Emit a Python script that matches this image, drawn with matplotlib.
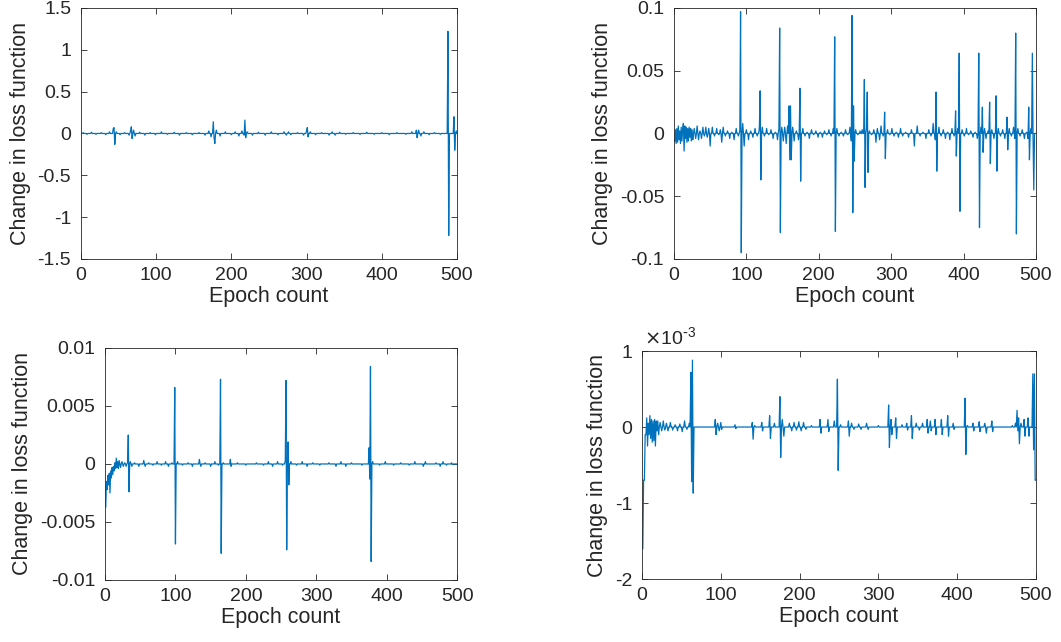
import numpy as np
import matplotlib
matplotlib.use("Agg")
import matplotlib.pyplot as plt
from matplotlib.ticker import FuncFormatter

plt.rcParams['font.family'] = ['Liberation Sans', 'DejaVu Sans']
plt.rcParams['axes.unicode_minus'] = False

n_epochs = 500
line_color = '#0072BD'

# panel 1 (top left): epoch -> change in loss
p1_x = [3, 8, 14, 20, 27, 33, 38, 43, 44, 45,
        47, 52, 58, 64, 66, 67, 68, 70, 72, 78,
        85, 92, 99, 107, 115, 124, 131, 140, 148, 157,
        165, 170, 173, 176, 177, 178, 180, 185, 192, 200,
        205, 210, 214, 217, 218, 219, 221, 228, 236, 245,
        253, 262, 270, 273, 276, 279, 288, 296, 300, 301,
        302, 305, 312, 320, 330, 334, 338, 344, 352, 362,
        371, 380, 390, 400, 410, 420, 432, 440, 446, 447,
        449, 452, 456, 463, 470, 478, 488, 489, 496, 497,
        499]
p1_y = [0.01, -0.01, 0.015, -0.01, 0.01, -0.015, 0.02, 0.06, 0.07, -0.13,
        0.02, -0.015, 0.01, -0.02, 0.03, 0.08, -0.06, 0.04, -0.03, 0.015,
        -0.02, 0.01, -0.015, 0.02, -0.01, 0.015, -0.02, 0.01, -0.015, 0.01,
        -0.02, 0.03, -0.04, 0.14, -0.05, -0.12, 0.04, -0.03, 0.02, -0.015,
        0.02, -0.03, 0.03, -0.02, 0.16, -0.05, 0.02, -0.02, 0.015, -0.02,
        0.02, -0.015, 0.02, -0.02, 0.02, -0.015, 0.01, -0.02, 0.03, 0.07,
        -0.04, 0.02, -0.015, 0.01, -0.02, 0.02, -0.02, 0.015, -0.01, 0.01,
        -0.01, 0.015, -0.01, 0.01, -0.015, 0.01, -0.01, 0.02, 0.04, -0.05,
        0.04, -0.03, 0.02, -0.015, 0.01, -0.01, 1.22, -1.22, 0.2, -0.2,
        0.03]

# panel 2 (top right)
p2_x = [1, 2, 3, 4, 5, 6, 7, 8, 9, 10,
        11, 12, 13, 14, 15, 16, 17, 18, 19, 20,
        21, 22, 23, 24, 25, 26, 28, 30, 32, 34,
        36, 38, 40, 42, 44, 46, 48, 50, 53, 56,
        59, 62, 64, 66, 68, 71, 74, 77, 80, 83,
        86, 89, 91, 92, 93, 95, 97, 100, 103, 106,
        109, 112, 115, 118, 119, 120, 122, 125, 128, 131,
        134, 137, 140, 143, 145, 146, 147, 149, 151, 153,
        155, 157, 159, 160, 161, 162, 164, 166, 169, 172,
        174, 175, 178, 181, 184, 187, 190, 193, 196, 199,
        202, 205, 208, 211, 214, 217, 220, 222, 223, 225,
        228, 231, 234, 237, 240, 243, 245, 246, 247, 248,
        249, 251, 254, 257, 260, 263, 264, 266, 267, 268,
        270, 273, 276, 279, 281, 284, 286, 289, 291, 292,
        295, 298, 301, 304, 307, 310, 313, 316, 320, 324,
        328, 332, 336, 340, 344, 348, 352, 355, 358, 361,
        362, 363, 366, 369, 372, 375, 378, 381, 384, 387,
        389, 390, 392, 394, 395, 398, 401, 404, 407, 410,
        413, 416, 419, 421, 422, 424, 426, 427, 429, 431,
        434, 436, 437, 439, 442, 445, 446, 448, 451, 454,
        457, 460, 461, 463, 466, 469, 471, 472, 473, 475,
        478, 481, 484, 487, 489, 490, 491, 493, 495, 496,
        497, 499]
p2_y = [-0.006, 0.003, -0.008, 0.004, -0.007, 0.006, -0.005, 0.002, -0.008, 0.005,
        -0.006, 0.003, 0.008, -0.014, 0.006, -0.004, 0.005, -0.007, 0.004, -0.006,
        0.005, -0.003, 0.004, -0.006, 0.003, -0.005, 0.004, -0.004, 0.006, -0.005,
        0.002, -0.004, 0.005, -0.002, 0.005, -0.003, 0.004, -0.01, 0.005, -0.002,
        0.004, -0.001, 0.003, -0.007, 0.005, -0.002, 0.002, -0.004, 0.001, -0.005,
        0.004, -0.002, 0.002, 0.097, -0.095, 0.008, -0.01, 0.003, -0.005, 0.002,
        -0.003, 0.004, -0.002, 0.005, 0.034, -0.037, 0.005, -0.002, 0.004, -0.001,
        0.003, -0.004, 0.001, -0.005, 0.004, 0.084, -0.079, 0.005, -0.006, 0.005,
        -0.008, 0.006, 0.022, -0.021, 0.022, -0.021, 0.005, -0.006, 0.002, -0.005,
        0.036, -0.038, 0.004, -0.002, 0.001, -0.004, 0.003, -0.001, 0.002, -0.003,
        0.001, -0.003, 0.002, -0.001, 0.003, -0.002, 0.004, 0.077, -0.078, 0.004,
        -0.002, 0.001, -0.002, 0.003, -0.001, 0.005, -0.006, 0.094, -0.063, 0.022,
        -0.022, 0.003, -0.001, 0.002, 0.003, 0.043, -0.043, 0.004, 0.033, -0.031,
        0.002, -0.001, 0.003, -0.007, 0.004, -0.005, 0.006, -0.002, 0.017, -0.02,
        0.003, -0.001, 0.004, -0.002, 0.001, -0.003, 0.004, -0.002, 0.001, -0.003,
        0.003, -0.01, 0.006, -0.002, 0.001, -0.004, 0.003, -0.002, 0.008, -0.005,
        0.033, -0.03, 0.005, -0.002, 0.003, -0.004, 0.001, -0.005, 0.004, -0.002,
        0.018, -0.018, 0.004, 0.064, -0.062, 0.003, -0.002, 0.004, -0.001, 0.002,
        -0.003, 0.001, -0.004, 0.064, -0.075, 0.005, 0.021, -0.015, 0.004, -0.004,
        0.002, 0.025, -0.024, 0.003, -0.004, 0.03, -0.03, 0.004, -0.002, 0.003,
        -0.004, 0.013, -0.013, 0.004, -0.002, 0.005, -0.004, 0.08, -0.08, 0.004,
        -0.002, 0.003, -0.004, 0.001, -0.004, 0.021, -0.021, 0.004, 0.064, -0.004,
        -0.045, 0.0]

# panel 3 (bottom left)
p3_x = [1, 2, 3, 4, 5, 6, 7, 8, 9, 10,
        11, 12, 13, 14, 15, 16, 17, 18, 19, 20,
        22, 24, 26, 28, 30, 32, 33, 34, 36, 38,
        42, 48, 55, 57, 62, 68, 74, 80, 86, 90,
        95, 99, 100, 103, 110, 118, 124, 134, 136, 142,
        150, 156, 161, 164, 165, 168, 178, 179, 188, 200,
        215, 225, 232, 238, 245, 252, 256, 257, 258, 260,
        261, 264, 272, 280, 287, 295, 305, 318, 328, 335,
        342, 350, 365, 375, 376, 377, 378, 380, 390, 398,
        410, 420, 432, 440, 452, 455, 470, 476, 480, 485,
        492]
p3_y = [-0.0037, -0.0015, -0.0022, -0.001, -0.0018, -0.0008, -0.0025, -0.0006, -0.0012, -0.0003,
        -0.0009, -0.0002, -0.0006, 0.0001, -0.0004, 0.0005, -0.0003, 0.0002, -0.0004, 0.0003,
        -0.0003, 0.0002, -0.0002, 0.0001, -0.0002, 0.0001, 0.0025, -0.0024, 0.0002, -0.0002,
        0.0001, -0.0002, 0.0003, -0.0002, 0.0001, -0.0001, 0.0002, -0.0001, 0.0002, -0.0002,
        0.0001, 0.0066, -0.0069, 0.0002, -0.0001, 0.0001, -0.0002, 0.0004, -0.0002, 0.0001,
        -0.0002, 0.0002, -0.0001, 0.0073, -0.0077, 0.0001, 0.0004, -0.0002, 0.0001, -0.0001,
        0.0001, -0.0001, 0.0002, -0.0002, 0.0002, -0.0001, 0.0003, 0.0072, -0.0074, 0.0019,
        -0.0018, 0.0002, -0.0001, 0.0002, -0.0002, 0.0001, -0.0001, 0.0001, -0.0002, 0.0002,
        -0.0002, 0.0001, -0.0001, 0.0014, -0.0013, 0.0084, -0.0084, 0.0002, -0.0001, 0.0002,
        -0.0001, 0.0001, -0.0001, 0.0002, -0.0002, 0.0002, 0.0001, -0.0002, 0.0002, -0.0001,
        0.0001]

# panel 4 (bottom right), values in units of 1e-3
p4_x = [1, 2, 3, 4, 5, 6, 7, 8, 9, 10,
        11, 12, 13, 14, 15, 16, 17, 18, 19, 20,
        21, 23, 25, 27, 29, 31, 33, 36, 39, 42,
        45, 48, 51, 54, 57, 60, 62, 63, 64, 65,
        93, 94, 96, 98, 100, 101, 118, 119, 140, 141,
        143, 152, 153, 162, 163, 168, 175, 176, 178, 180,
        187, 190, 193, 196, 199, 202, 205, 208, 215, 226,
        227, 236, 237, 244, 248, 249, 252, 262, 263, 266,
        269, 275, 278, 285, 287, 300, 313, 314, 316, 317,
        322, 323, 330, 336, 337, 342, 343, 348, 352, 356,
        362, 363, 366, 367, 372, 373, 380, 381, 388, 389,
        395, 396, 410, 411, 413, 420, 421, 428, 429, 435,
        437, 444, 445, 470, 474, 476, 477, 478, 479, 481,
        485, 486, 490, 491, 496, 497, 498, 499, 500]
p4_y = [-1.6, -0.7, -0.7, -0.1, -0.1, 0.12, -0.25, 0.05, -0.1, 0.15,
        -0.15, 0.1, -0.2, 0.08, -0.18, 0.1, -0.25, 0.08, -0.05, 0.08,
        -0.1, 0.06, -0.05, 0.08, -0.04, 0.05, -0.05, 0.06, -0.04, 0.03,
        -0.05, 0.04, -0.06, 0.08, -0.03, 0.05, 0.72, -0.72, 0.88, -0.87,
        0.1, -0.1, 0.05, -0.05, 0.06, -0.03, 0.03, -0.02, 0.06, -0.16,
        0.02, 0.06, -0.05, 0.15, -0.15, 0.05, 0.4, -0.4, 0.1, -0.12,
        0.05, -0.05, 0.06, -0.04, 0.07, -0.05, 0.06, -0.03, 0.02, 0.1,
        -0.08, 0.1, -0.06, 0.08, 0.63, -0.57, 0.03, 0.08, -0.12, 0.05,
        -0.03, 0.04, -0.03, 0.05, -0.03, 0.02, 0.29, -0.27, 0.1, -0.1,
        0.12, -0.15, 0.03, 0.05, -0.04, 0.15, -0.15, 0.05, -0.04, 0.05,
        0.1, -0.08, 0.08, -0.05, 0.1, -0.1, 0.1, -0.1, 0.15, -0.12,
        0.05, -0.03, 0.38, -0.36, 0.02, 0.05, -0.05, 0.07, -0.06, 0.05,
        -0.08, 0.08, -0.06, 0.02, 0.05, 0.22, -0.05, 0.12, -0.22, 0.05,
        0.1, -0.12, 0.12, -0.12, 0.7, -0.3, 0.7, -0.7, -0.7]


def build_series(ex, ey, scale=1.0):
    y = np.zeros(n_epochs)
    y[np.array(ex) - 1] = np.array(ey) * scale
    return y


epochs = np.arange(1, n_epochs + 1)

boxes = [
    [0.0763, 0.5966, 0.3544, 0.3910],
    [0.6352, 0.5966, 0.3412, 0.3910],
    [0.0990, 0.0966, 0.3318, 0.3614],
    [0.6051, 0.0981, 0.3713, 0.3551],
]
series = [build_series(p1_x, p1_y), build_series(p2_x, p2_y),
          build_series(p3_x, p3_y), build_series(p4_x, p4_y, 1e-3)]
ylims = [(-1.5, 1.5), (-0.1, 0.1), (-0.01, 0.01), (-2e-3, 1e-3)]
yticks = [[-1.5, -1, -0.5, 0, 0.5, 1, 1.5],
          [-0.1, -0.05, 0, 0.05, 0.1],
          [-0.01, -0.005, 0, 0.005, 0.01],
          [-2e-3, -1e-3, 0, 1e-3]]

fig = plt.figure(figsize=(10.61, 6.42), dpi=100)
txt = '#262626'
for i in range(4):
    ax = fig.add_axes(boxes[i])
    ax.plot(epochs, series[i], color=line_color, lw=0.9)
    ax.set_xlim(0, 500)
    ax.set_ylim(*ylims[i])
    ax.set_xticks([0, 100, 200, 300, 400, 500])
    ax.set_yticks(yticks[i])
    if i == 3:
        ax.yaxis.set_major_formatter(FuncFormatter(lambda v, p: '%g' % round(v * 1e3, 6)))
        ax.text(0.005, 1.01, r'$\times$10$^{\mathregular{\text{-}3}}$', transform=ax.transAxes,
                fontsize=14, color=txt, ha='left', va='bottom')
    else:
        ax.yaxis.set_major_formatter(FuncFormatter(lambda v, p: '%g' % round(v, 6)))
    ax.tick_params(direction='in', length=4, width=0.6, top=True, right=True,
                   labelsize=14, colors=txt)
    ax.tick_params(axis='y', pad=7)
    ax.tick_params(axis='x', pad=6)
    for s in ax.spines.values():
        s.set_color(txt)
        s.set_linewidth(0.6)
    ax.set_xlabel('Epoch count', fontsize=15.5, color=txt, labelpad=1)
    ax.set_ylabel('Change in loss function', fontsize=15.5, color=txt, labelpad=5)

fig.savefig('out.png', dpi=100)
